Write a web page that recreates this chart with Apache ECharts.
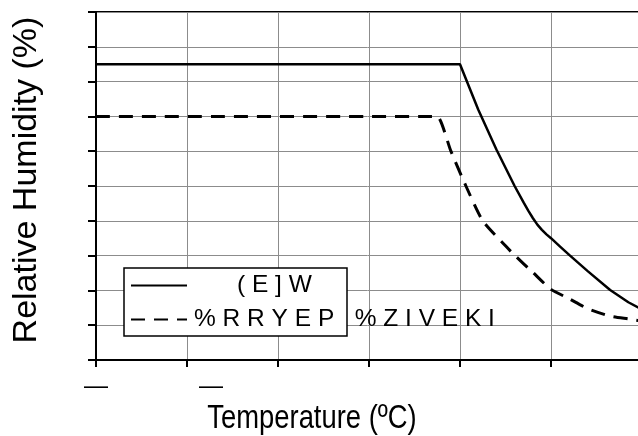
<!DOCTYPE html>
<html>
<head>
<meta charset="utf-8">
<script src="https://cdn.jsdelivr.net/npm/echarts@6/dist/echarts.min.js"></script>
<style>
html,body{margin:0;padding:0;background:#fff;overflow:hidden;}
#chart{width:638px;height:436px;}
</style>
</head>
<body>
<div id="chart"></div>
<script>
// ---- data ----
const seriesNames = ['( E ] W', '% R R Y E P   % Z I V E K I'];
const daysTemp = [-40, 40, 44, 48, 52, 54, 55, 56, 57, 58, 59, 60, 62, 64, 68, 73, 77, 80];
const daysRH   = [85, 85, 72, 60.5, 50, 45.2, 42.9, 40.8, 38.9, 37.4, 36.1, 35, 32.6, 30.2, 25.6, 20.1, 16.6, 14.5];
const avgTemp  = [-40, 33, 35, 38, 41.3, 45, 50, 52, 56, 60, 64, 68, 73, 77, 80];
const avgRH    = [70, 70, 70, 60, 50, 40, 32.8, 30.1, 25.2, 20.3, 17.6, 14.8, 12.6, 11.8, 11.2];
const xTickLabels = {'-40': '\u2014', '-20': '\u2003\u2003\u2014'};
const xTitle = 'Temperature (\u00baC)';
const yTitle = 'Relative Humidity (%)';

const pair = (xs, ys) => xs.map((x, i) => [x, ys[i]]);

const chart = echarts.init(document.getElementById('chart'), null, {renderer: 'canvas'});
chart.setOption({
  backgroundColor: '#fff',
  animation: false,
  textStyle: {fontFamily: 'Liberation Sans, Arial, sans-serif', color: '#000'},
  grid: {left: 96, top: 12, width: 546, height: 348, outerBoundsMode: 'none', containLabel: false,
         show: true, borderColor: '#000', borderWidth: 2, backgroundColor: 'transparent'},
  xAxis: {
    type: 'value', min: -40, max: 80, interval: 20,
    axisLine: {show: true, onZero: false, lineStyle: {color: '#000', width: 2}},
    axisTick: {show: true, length: 7, lineStyle: {color: '#000', width: 2}},
    axisLabel: {show: true, margin: 14, fontSize: 24, color: '#000',
      formatter: v => xTickLabels[String(v)] || ''},
    splitLine: {show: true, lineStyle: {color: '#8c8c8c', width: 1}}
  },
  yAxis: {
    type: 'value', min: 0, max: 100, interval: 10,
    name: yTitle, nameLocation: 'middle', nameRotate: 90, nameGap: 52,
    nameTextStyle: {fontSize: 34, color: '#000', padding: [0, 0, 0, 12]},
    axisLine: {show: true, onZero: false, lineStyle: {color: '#000', width: 2}},
    axisTick: {show: true, length: 8, lineStyle: {color: '#000', width: 2}},
    axisLabel: {show: false},
    splitLine: {show: true, lineStyle: {color: '#8c8c8c', width: 1}}
  },
  legend: {
    show: true, orient: 'vertical', left: 125, top: 268, z: 10,
    itemWidth: 56, itemHeight: 14, itemGap: 9,
    itemStyle: {opacity: 0},
    data: seriesNames,
    formatter: n => n === seriesNames[0] ? '{a|' + n + '}' : '{b|' + n + '}',
    textStyle: {fontSize: 24.5, color: '#000', lineHeight: 24,
      rich: {a: {fontSize: 24.5, padding: [0, 0, 0, 45]}, b: {fontSize: 24.5, padding: [0, 0, 0, 2]}}}
  },
  graphic: [{
    type: 'rect', z: 3, silent: true,
    shape: {x: 124, y: 268, width: 223, height: 68},
    style: {fill: '#fff', stroke: '#000', lineWidth: 1.5}
  }, {
    type: 'text', z: 10, silent: true,
    x: 312, y: 419, originX: 0, originY: 0, scaleX: 0.83,
    style: {text: xTitle, x: 0, y: 0, align: 'center', verticalAlign: 'middle',
            font: '33px "Liberation Sans", Arial, sans-serif', fill: '#000'}
  }],
  series: [
    {name: seriesNames[0], type: 'line', data: pair(daysTemp, daysRH), symbol: 'none', z: 5,
     smooth: false,
     lineStyle: {color: '#000', width: 2.5, type: 'solid'}, itemStyle: {color: '#000'}},
    {name: seriesNames[1], type: 'line', data: pair(avgTemp, avgRH), symbol: 'none', z: 5,
     smooth: 0.2,
     lineStyle: {color: '#000', width: 3, type: [14, 9]}, itemStyle: {color: '#000'}}
  ]
});
</script>
</body>
</html>
